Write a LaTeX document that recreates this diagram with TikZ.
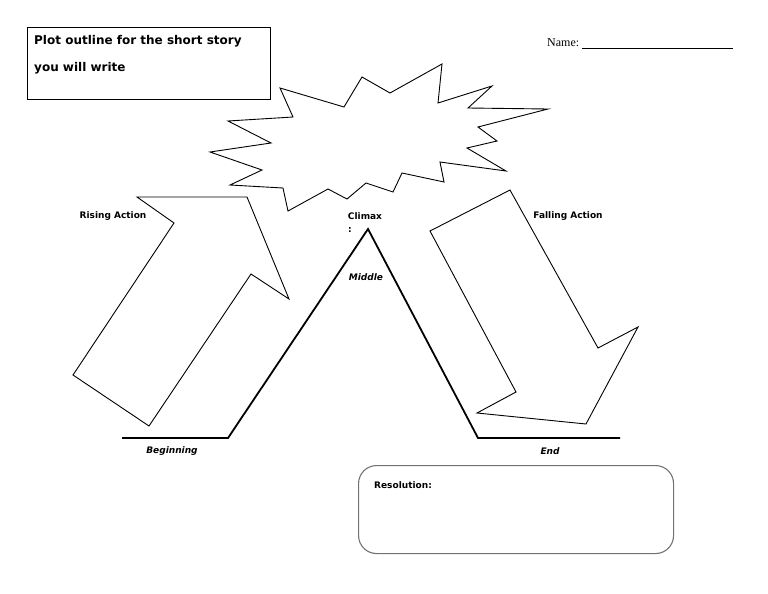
\documentclass[tikz,border=0pt]{standalone}
\usepackage{fontspec}
\setmainfont{Liberation Serif}
\newfontfamily\handfont{DejaVu Sans}
\usetikzlibrary{positioning}
\tikzset{
  titlebox/.style={rectangle, draw=black, line width=0.9pt, minimum width=243pt,
                   minimum height=72pt, inner sep=0pt},
  titletext/.style={font=\handfont\bfseries\fontsize{12}{14}\selectfont, inner sep=0pt},
  tag/.style={font=\handfont\bfseries\fontsize{9}{11}\selectfont, inner sep=0pt},
  tagit/.style={font=\handfont\bfseries\itshape\fontsize{9}{11}\selectfont, inner sep=0pt},
  outline/.style={draw=black, line width=0.9pt, line join=miter, fill=white},
  ridge/.style={draw=black, line width=1.8pt, line join=miter},
  resbox/.style={rectangle, rounded corners=18pt, draw=black!55, line width=1.1pt,
                 minimum width=315pt, minimum height=88pt, inner sep=0pt},
}

\begin{document}
\begin{tikzpicture}[x=1pt, y=-1pt]
  \useasboundingbox (0,0) rectangle (768,594);

  % title box
  \node[titlebox, anchor=north west] (title) at (27,27) {};
  \node[titletext, anchor=west] (title1) at (34,41) {Plot outline for the short story};
  \node[titletext, anchor=west] (title2) at (34,68) {you will write};

  % name line
  \node[font=\fontsize{12}{14}\selectfont, inner sep=0pt, anchor=west] (name) at (547,43) {Name:};
  \coordinate (nameend) at (733,48);
  \draw[line width=0.7pt] (name.east |- nameend) ++(3,0) -- (nameend);

  % climax burst
  \draw[outline] (280,88) -- (344,107) -- (362,77) -- (390,93) -- (442,64) -- (438,103)
    -- (492,86) -- (468,108) -- (548,109) -- (478,127) -- (497,141) -- (467,148)
    -- (506,171) -- (440,162) -- (444,182) -- (402,173) -- (393,192) -- (366,183)
    -- (347,199) -- (328,189) -- (288,211) -- (283,188) -- (230,185) -- (262,170)
    -- (210,152) -- (271,143) -- (228,121) -- (293,117) -- cycle;

  % rising arrow
  \draw[outline] (137,197) -- (247,197) -- (289,299) -- (251,274) -- (149,426)
    -- (73,375) -- (174,223) -- cycle;

  % falling arrow
  \draw[outline] (430,231) -- (510,190) -- (598,348) -- (638,327) -- (586,424)
    -- (477,413) -- (516,392) -- cycle;

  % plot line
  \coordinate (start) at (122,438);
  \coordinate (foot1) at (228,438);
  \coordinate (peak) at (368,229);
  \coordinate (foot2) at (478,438);
  \coordinate (finish) at (620,438);
  \draw[ridge] (start) -- (foot1) -- (peak) -- (foot2) -- (finish);

  % labels
  \node[tag] (rising) at (113,216) {Rising Action};
  \node[tag] (falling) at (568,216) {Falling Action};
  \node[tag] (climax) at (365,216) {Climax};
  \node[tag] (colon) at (350,230) {:};
  \node[tagit] (middle) at (366,277) {Middle};
  \node[tagit] (beginning) at (172,451) {Beginning};
  \node[tagit] (end) at (550,451) {End};

  % resolution box
  \node[resbox, anchor=north west] (resolution) at (358,465) {};
  \node[tag, anchor=west] (reslabel) at (374,485) {Resolution:};
\end{tikzpicture}
\end{document}
